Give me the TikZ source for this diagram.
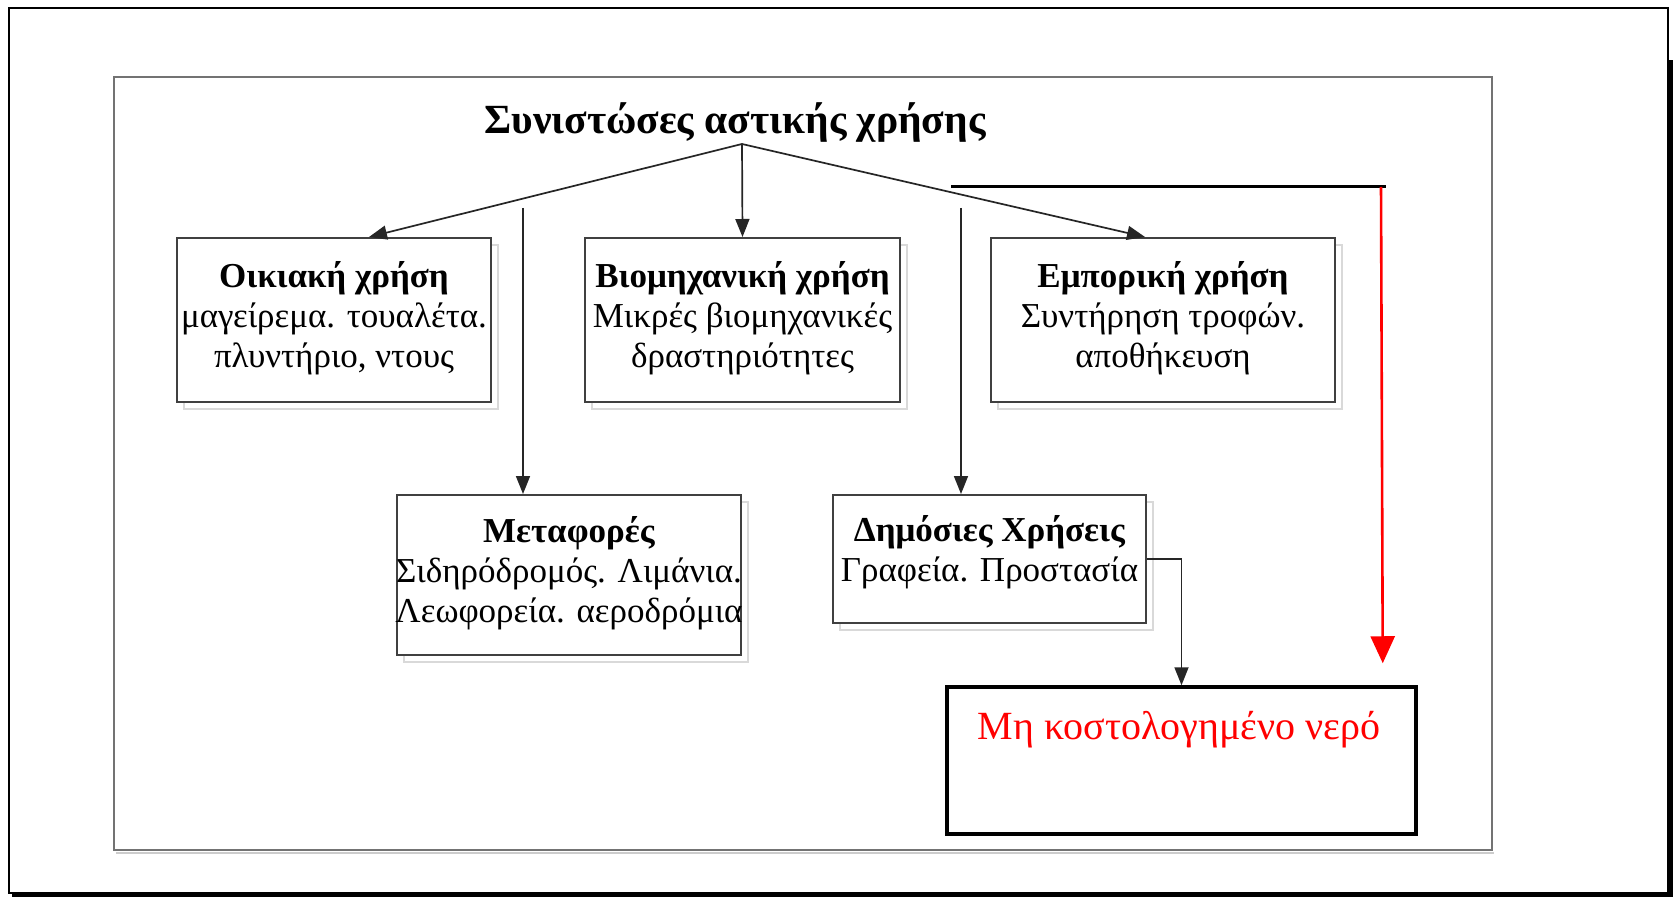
\documentclass[tikz,border=0pt]{standalone}
\usepackage{fontspec}
\setmainfont{Liberation Serif}
\usetikzlibrary{arrows.meta,calc,shadows}
\begin{document}
\begin{tikzpicture}[x=1pt,y=-1pt,
  box/.style={draw=black!75, line width=2pt, fill=white,
    copy shadow={shadow xshift=7pt, shadow yshift=-7pt, draw=black!15, fill=none, line width=1.5pt}},
  boxtext/.style={align=center, font=\fontsize{35}{40}\selectfont, inner sep=0pt},
  arr/.style={draw=black!85, line width=1.7pt, -{Triangle[length=18pt, width=14pt]}},
  redarr/.style={draw=red, line width=2.6pt, -{Triangle[length=27pt, width=24pt]}},
]
\useasboundingbox (0,0) rectangle (1675,901);
% frames
\fill[white] (0,0) rectangle (1675,901);
\draw[black, line width=2.5pt] (9,8) rectangle (1668,893);
\fill[black] (1667,60) rectangle (1673,897);
\fill[black] (12,892) rectangle (1673,897);
\draw[black!55, line width=2.5pt] (114,77) rectangle (1492,850);
\draw[black!20, line width=2pt] (116,853) -- (1494,853);
% title
\node[anchor=base, font=\bfseries\fontsize{41.5}{48}\selectfont, inner sep=0pt] (title) at (735,134) {Συνιστώσες αστικής χρήσης};
\coordinate (hub) at (742,144);
% boxes
\node[box, minimum width=314pt, minimum height=164pt] (oik) at (334,320) {};
\node[boxtext] (oikt) at (334,318) {\textbf{Οικιακή χρήση}\\μαγείρεμα. τουαλέτα.\\πλυντήριο, ντους};
\node[box, minimum width=315pt, minimum height=164pt] (bio) at (742.5,320) {};
\node[boxtext] (biot) at (742.5,318) {\textbf{Βιομηχανική χρήση}\\Μικρές βιομηχανικές\\δραστηριότητες};
\node[box, minimum width=344pt, minimum height=164pt] (emp) at (1163,320) {};
\node[boxtext] (empt) at (1163,318) {\textbf{Εμπορική χρήση}\\Συντήρηση τροφών.\\αποθήκευση};
\node[box, minimum width=344pt, minimum height=160pt] (met) at (569,575) {};
\node[boxtext] (mett) at (569,573) {\textbf{Μεταφορές}\\Σιδηρόδρομός. Λιμάνια.\\Λεωφορεία. αεροδρόμια};
\node[box, minimum width=313pt, minimum height=128pt] (dim) at (989.5,559) {};
\node[boxtext] (dimt) at (989.5,552) {\textbf{Δημόσιες Χρήσεις}\\Γραφεία. Προστασία};
\node[draw=black, line width=3.5pt, fill=white, minimum width=469pt, minimum height=147pt] (mh) at (1181.5,760.5) {};
\node[inner sep=0pt, text=red, font=\fontsize{40}{46}\selectfont] (mht) at (1179,730) {Μη κοστολογημένο νερό};
% connectors from title
\draw[arr] (hub) -- ($(oik.north)+(35,0)$);
\draw[arr] (hub) -- (bio.north);
\draw[arr] (hub) -- ($(emp.north)+(-18,0)$);
% free vertical arrows
\coordinate (v1) at (523,208);
\coordinate (v2) at (961,208);
\draw[arr] (v1) -- (v1 |- met.north);
\draw[arr] (v2) -- (v2 |- dim.north);
% elbow
\draw[arr] (dim.east) -| (mh.north);
% black line and red arrow
\coordinate (bl) at (951,187);
\coordinate (br) at (1386,187);
\coordinate (rt) at (1381,187);
\draw[black, line width=3pt] (bl) -- (br);
\draw[redarr] (rt) -- ($(mh.north east)+(-35,-22)$);
\end{tikzpicture}
\end{document}
